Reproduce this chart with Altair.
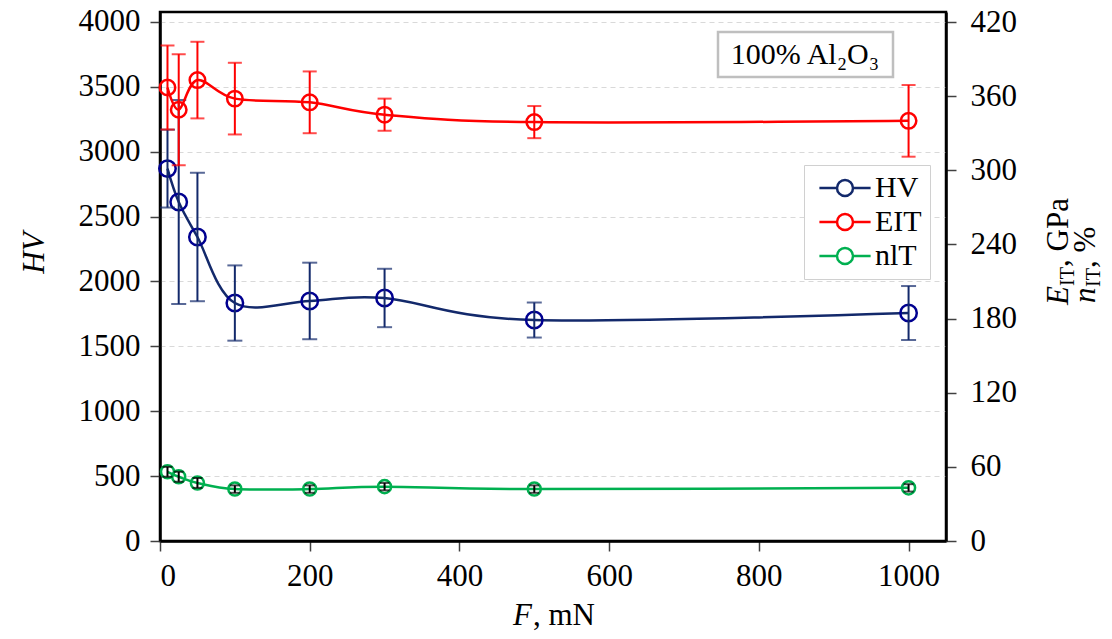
import altair as alt
import pandas as pd

# ---- data ----
F = [10, 25, 50, 100, 200, 300, 500, 1000]
HV = [2870, 2613, 2343, 1834, 1850, 1873, 1703, 1757]
HV_err = [300, 786, 495, 290, 295, 225, 135, 208]
EIT = [367, 349, 373, 358, 355, 345, 339, 340]
EIT_err = [34, 45, 31, 29, 25, 13, 13, 29]
nIT = [56, 52, 47, 42, 42, 44, 42, 43]
nIT_err = [4, 4, 4, 3, 3, 3, 3, 3]

x_ticks = [0, 200, 400, 600, 800, 1000]
left_ticks = [0, 500, 1000, 1500, 2000, 2500, 3000, 3500, 4000]
right_ticks = [0, 60, 120, 180, 240, 300, 360, 420]

series_names = ["HV", "EIT", "nlT"]
line_colors = ["#13296b", "#ff0000", "#00b050"]
marker_colors = ["#000090", "#ff0000", "#00b050"]
err_colors = ["#13296b", "#ff0000", "#000000"]

FONT = "Liberation Serif"
W, H = 786, 529


def make_df(name, vals, errs):
    return pd.DataFrame({
        "series": name,
        "F": F,
        "v": vals,
        "lo": [a - b for a, b in zip(vals, errs)],
        "hi": [a + b for a, b in zip(vals, errs)],
    })


df_hv = make_df("HV", HV, HV_err)
df_eit = make_df("EIT", EIT, EIT_err)
df_nit = make_df("nlT", nIT, nIT_err)

xenc = alt.X("F:Q", scale=alt.Scale(domain=[0, 1050], nice=False, zero=False),
             axis=alt.Axis(values=x_ticks, title=None, grid=False, orient="bottom",
                           labelPadding=10, format="d"))

legend_path = "M-3.2,0H-1M1,0H3.2M1,0A1,1,0,1,1,-1,0A1,1,0,1,1,1,0"
color_scale = alt.Scale(domain=series_names, range=line_colors)
legend = alt.Legend(title=None, orient="none", legendX=644, legendY=153,
                    symbolType=legend_path, symbolSize=256, symbolStrokeWidth=2.5,
                    symbolFillColor="transparent", symbolOffset=18, labelOffset=15,
                    labelFont=FONT, labelFontSize=30, labelColor="black",
                    padding=8, rowPadding=4, strokeColor="#d0d0d0", fillColor="white",
                    cornerRadius=0)


def series_layers(df, idx, yscale, yaxis, msize, cap):
    base = alt.Chart(df)
    y = alt.Y("v:Q", scale=yscale, axis=yaxis)
    line = base.mark_line(interpolate="cardinal", strokeWidth=2.5).encode(
        x=xenc, y=y, color=alt.Color("series:N", scale=color_scale, legend=legend))
    pts = base.mark_point(shape="circle", filled=False, size=msize, strokeWidth=2.5,
                          color=marker_colors[idx], opacity=1).encode(x=xenc, y=y)
    rule = base.mark_rule(strokeWidth=2, color=err_colors[idx]).encode(
        x=xenc, y=alt.Y("lo:Q", scale=yscale, axis=yaxis), y2="hi:Q")
    tlo = base.mark_tick(orient="horizontal", size=cap, thickness=2,
                         color=err_colors[idx]).encode(
        x=xenc, y=alt.Y("lo:Q", scale=yscale, axis=yaxis))
    thi = base.mark_tick(orient="horizontal", size=cap, thickness=2,
                         color=err_colors[idx]).encode(
        x=xenc, y=alt.Y("hi:Q", scale=yscale, axis=yaxis))
    return [line, pts, rule, tlo, thi]


left_scale = alt.Scale(domain=[0, 4077], nice=False, zero=True)
left_axis = alt.Axis(values=left_ticks, title=None, orient="left", grid=True,
                     gridDash=[5, 4], gridColor="#d9d9d9", gridWidth=1, labelPadding=10,
                     format="d")
right_scale = alt.Scale(domain=[0, 428.1], nice=False, zero=True)
right_axis = alt.Axis(values=right_ticks, title=None, orient="right", grid=False,
                      labelPadding=14, format="d")

left_group = alt.layer(*series_layers(df_hv, 0, left_scale, left_axis, 270, 15))
right_group = alt.layer(
    *series_layers(df_eit, 1, right_scale, right_axis, 240, 14),
    *series_layers(df_nit, 2, right_scale, right_axis, 170, 10),
)


def txt(s, x, y, size=31, italic=False, angle=0, align="left", baseline="alphabetic"):
    kw = dict(text=s, font=FONT, fontSize=size, color="black", align=align,
              baseline=baseline, fontStyle="italic" if italic else "normal")
    if angle:
        kw["angle"] = angle
    return alt.Chart(pd.DataFrame({"a": [0]})).mark_text(**kw).encode(
        x=alt.value(x), y=alt.value(y))


# annotation box
box = alt.Chart(pd.DataFrame({"a": [0]})).mark_rect(
    fill="white", stroke="#bfbfbf", strokeWidth=2.5).encode(
    x=alt.value(558), x2=alt.value(733), y=alt.value(20), y2=alt.value(65))

texts = [
    box,
    txt("100% Al\u2082O\u2083", 645, 43, size=30, align="center", baseline="middle"),
    # left axis title
    txt("HV", -125, 241, italic=True, angle=270, align="center", baseline="middle"),
    # x axis title
    txt("F", 353, 613, italic=True),
    txt(", mN", 373, 613),
    # right axis titles
    txt("E", 908, 293, italic=True, angle=270),
    txt("IT", 914, 274, size=20, angle=270),
    txt(", GPa", 908, 255, angle=270),
    txt("n", 935, 291, italic=True, angle=270),
    txt("IT", 940, 275, size=20, angle=270),
    txt("\u00a0,\u00a0%", 935, 256, angle=270),
]

chart = alt.layer(left_group, right_group, *texts).resolve_scale(
    y="independent"
).properties(
    width=W, height=H, autosize="none", background="white",
    padding={"left": 152, "top": 4, "right": 158, "bottom": 90},
).configure_view(
    stroke="black", strokeWidth=2.5
).configure_axis(
    labelFont=FONT, labelFontSize=31, labelColor="black",
    domainColor="black", domainWidth=2.5,
    tickColor="#404040", tickWidth=1.5, tickSize=10,
)

chart.save("out.html", embed_options={"renderer": "svg", "actions": False})
